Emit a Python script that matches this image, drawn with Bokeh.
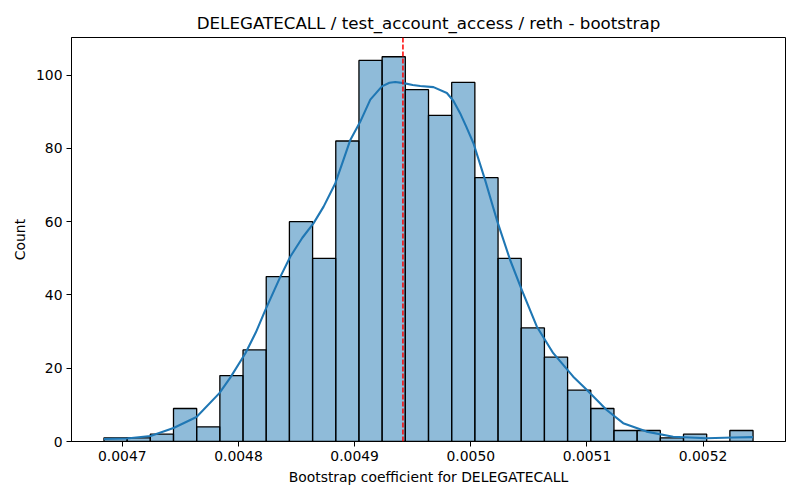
import numpy as np
from bokeh.plotting import figure
from bokeh.models import Span, FixedTicker, PrintfTickFormatter, Range1d, ColumnDataSource
from bokeh.embed import file_html
from bokeh.resources import INLINE

# Histogram data (28 equal bins)
bin_lo = 0.0046842
bin_hi = 0.0052430
counts = [1, 1, 2, 9, 4, 18, 25, 45, 60, 50, 82, 104, 105, 96, 89, 98,
          72, 50, 31, 23, 14, 9, 3, 3, 1, 2, 0, 3]

# KDE curve
kde_x = [0.0046842, 0.0047037, 0.0047243, 0.0047441, 0.0047639, 0.0047836,
         0.0047931, 0.0048060, 0.0048150, 0.0048232, 0.0048361, 0.0048447,
         0.0048550, 0.0048647, 0.0048733, 0.0048834, 0.0048900, 0.0048963,
         0.0049049, 0.0049135, 0.0049235, 0.0049300, 0.0049350, 0.0049421,
         0.0049500, 0.0049565, 0.0049679, 0.0049794, 0.0049850, 0.0049908,
         0.0049960, 0.0050023, 0.0050123, 0.0050224, 0.0050338, 0.0050439,
         0.0050568, 0.0050710, 0.0050882, 0.0050998, 0.0051170, 0.0051312,
         0.0051513, 0.0051742, 0.0052029, 0.0052258, 0.0052430]
kde_y = [0.7, 0.8, 1.5, 3.7, 6.7, 13.2, 17.5, 24.1, 29.8, 35.9, 45.0, 50.5,
         55.6, 59.6, 64.1, 70.5, 76.5, 82.3, 87.3, 93.3, 96.9, 97.9, 98.1,
         97.8, 97.3, 97.0, 96.7, 95.1, 93.0, 89.6, 86.0, 81.4, 71.4, 60.5,
         49.6, 41.4, 31.4, 24.1, 17.7, 14.1, 8.6, 5.0, 2.7, 1.3, 0.9, 1.1, 1.2]

mean_value = 0.0049416
x_ticks = [0.0047, 0.0048, 0.0049, 0.0050, 0.0051, 0.0052]
y_ticks = [0, 20, 40, 60, 80, 100]

title = "DELEGATECALL / test_account_access / reth - bootstrap"
x_label = "Bootstrap coefficient for DELEGATECALL"
y_label = "Count"

edges = np.linspace(bin_lo, bin_hi, len(counts) + 1)
src = ColumnDataSource(dict(left=edges[:-1], right=edges[1:], top=counts,
                            bottom=[0] * len(counts)))

span = bin_hi - bin_lo
p = figure(width=792, height=492, output_backend="svg", toolbar_location=None,
           x_range=Range1d(bin_lo - 0.05 * span, bin_hi + 0.05 * span),
           y_range=Range1d(0, 110.25), title=title,
           min_border_left=71, min_border_right=7, min_border_top=37,
           min_border_bottom=51)

p.quad(left="left", right="right", top="top", bottom="bottom", source=src,
       fill_color="#1f77b4", fill_alpha=0.5, line_color="black", line_width=1.3)
p.line(kde_x, kde_y, line_color="#1f77b4", line_width=2.1,
       line_join="round")
p.add_layout(Span(location=mean_value, dimension="height", line_color="#ff0000",
                  line_width=1.5, line_dash="5 2"))

p.title.align = "center"
p.title.text_font = "DejaVu Sans"
p.title.text_font_size = "16.7px"
p.title.text_font_style = "normal"
p.title.text_color = "black"

p.xgrid.visible = False
p.ygrid.visible = False
p.outline_line_color = "black"
p.outline_line_width = 1
p.outline_line_alpha = 1

for ax in (p.xaxis[0], p.yaxis[0]):
    ax.major_label_text_font = "DejaVu Sans"
    ax.major_label_text_font_size = "13.9px"
    ax.major_label_text_color = "black"
    ax.axis_label_text_font = "DejaVu Sans"
    ax.axis_label_text_font_size = "13.9px"
    ax.axis_label_text_font_style = "normal"
    ax.axis_label_text_color = "black"
    ax.minor_tick_line_color = None
    ax.major_tick_in = 0
    ax.major_tick_out = 5
    ax.major_tick_line_color = "black"
    ax.axis_line_color = "black"
    ax.major_label_standoff = 4
    ax.axis_label_standoff = 5

p.xaxis[0].ticker = FixedTicker(ticks=x_ticks)
p.xaxis[0].formatter = PrintfTickFormatter(format="%.4f")
p.xaxis[0].axis_label = x_label
p.yaxis[0].ticker = FixedTicker(ticks=y_ticks)
p.yaxis[0].axis_label = y_label

open("out.html", "w").write(file_html(p, INLINE))
